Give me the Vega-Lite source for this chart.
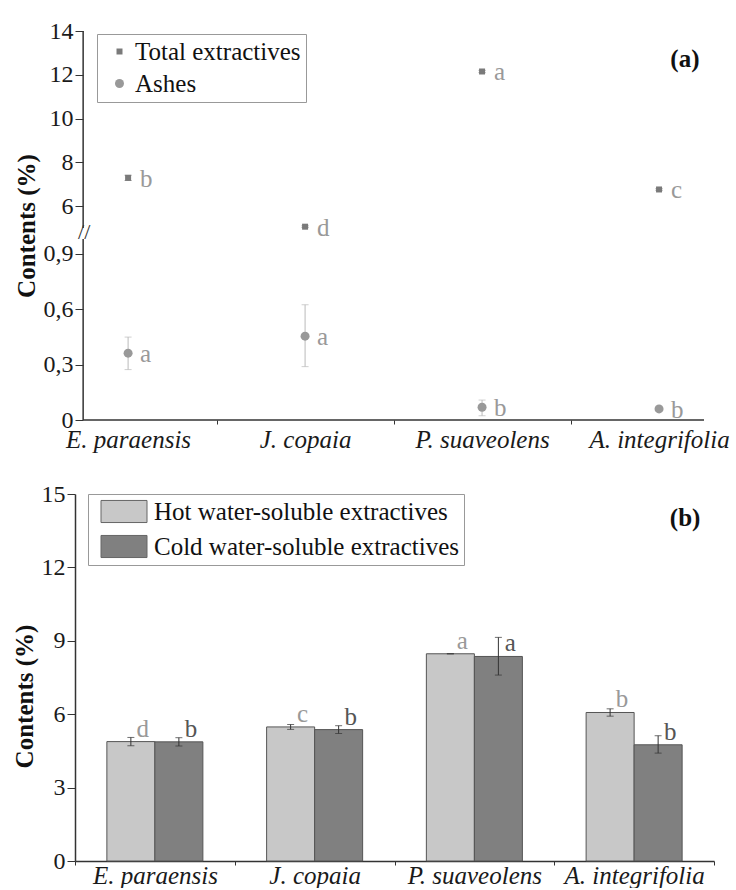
{
  "$schema": "https://vega.github.io/schema/vega-lite/v6.json",
  "background": "white",
  "padding": {"left": 12, "top": 19, "right": 0, "bottom": 0},
  "spacing": 30,
  "config": {
    "view": {"stroke": null},
    "font": "Liberation Serif",
    "axis": {
      "labelFont": "Liberation Serif",
      "titleFont": "Liberation Serif",
      "labelColor": "#1a1a1a",
      "titleColor": "#111111",
      "domainColor": "#333333",
      "tickColor": "#333333",
      "grid": false,
      "labelFontSize": 24,
      "titleFontSize": 25,
      "titleFontWeight": "bold"
    },
    "legend": {"labelFont": "Liberation Serif", "labelFontSize": 25, "labelColor": "#111111", "labelLimit": 0},
    "text": {"font": "Liberation Serif"}
  },
  "datasets": {
    "a": [
      {"species": "E. paraensis", "pos": 1, "series": "Total extractives", "value": 7.29, "lo": 7.17, "hi": 7.41, "letter": "b"},
      {"species": "J. copaia", "pos": 2, "series": "Total extractives", "value": 5.06, "lo": 5.02, "hi": 5.1, "letter": "d"},
      {"species": "P. suaveolens", "pos": 3, "series": "Total extractives", "value": 12.15, "lo": 12.1, "hi": 12.2, "letter": "a"},
      {"species": "A. integrifolia", "pos": 4, "series": "Total extractives", "value": 6.76, "lo": 6.72, "hi": 6.8, "letter": "c"},
      {"species": "E. paraensis", "pos": 1, "series": "Ashes", "value": 0.362, "lo": 0.273, "hi": 0.449, "letter": "a"},
      {"species": "J. copaia", "pos": 2, "series": "Ashes", "value": 0.454, "lo": 0.289, "hi": 0.624, "letter": "a"},
      {"species": "P. suaveolens", "pos": 3, "series": "Ashes", "value": 0.069, "lo": 0.023, "hi": 0.108, "letter": "b"},
      {"species": "A. integrifolia", "pos": 4, "series": "Ashes", "value": 0.06, "lo": 0.05, "hi": 0.07, "letter": "b"}
    ],
    "b": [
      {"species": "E. paraensis", "series": "Hot water-soluble extractives", "value": 4.88, "lo": 4.71, "hi": 5.05, "letter": "d"},
      {"species": "E. paraensis", "series": "Cold water-soluble extractives", "value": 4.87, "lo": 4.7, "hi": 5.04, "letter": "b"},
      {"species": "J. copaia", "series": "Hot water-soluble extractives", "value": 5.48, "lo": 5.38, "hi": 5.58, "letter": "c"},
      {"species": "J. copaia", "series": "Cold water-soluble extractives", "value": 5.37, "lo": 5.21, "hi": 5.53, "letter": "b"},
      {"species": "P. suaveolens", "series": "Hot water-soluble extractives", "value": 8.47, "lo": 8.47, "hi": 8.47, "letter": "a"},
      {"species": "P. suaveolens", "series": "Cold water-soluble extractives", "value": 8.36, "lo": 7.6, "hi": 9.14, "letter": "a"},
      {"species": "A. integrifolia", "series": "Hot water-soluble extractives", "value": 6.07, "lo": 5.92, "hi": 6.22, "letter": "b"},
      {"species": "A. integrifolia", "series": "Cold water-soluble extractives", "value": 4.75, "lo": 4.41, "hi": 5.12, "letter": "b"}
    ]
  },
  "vconcat": [
    {
      "width": 629,
      "height": 389,
      "data": {"name": "a"},
      "layer": [
        {
          "data": {"values": [{}]},
          "mark": {"type": "rule", "color": "#333333", "strokeWidth": 1.5},
          "encoding": {
            "x": {"datum": 0.746, "type": "quantitative"},
            "y": {"datum": 0, "type": "quantitative"},
            "y2": {"datum": 0.98}
          }
        },
        {
          "data": {"values": [{}]},
          "mark": {"type": "rule", "color": "#333333", "strokeWidth": 1.5},
          "encoding": {
            "x": {"datum": 0.746, "type": "quantitative"},
            "y": {"datum": 5.0, "type": "quantitative"},
            "y2": {"datum": 14}
          }
        },
        {
          "data": {"values": [{}]},
          "mark": {"type": "rule", "color": "#333333", "strokeWidth": 1.5},
          "encoding": {
            "x": {"datum": 0.746, "type": "quantitative"},
            "x2": {"datum": 4.254},
            "y": {"datum": 0, "type": "quantitative"}
          }
        },
        {
          "data": {"values": [{}]},
          "mark": {"type": "text", "text": "//", "fontSize": 22, "color": "#333333", "align": "center", "baseline": "middle", "dx": 1},
          "encoding": {
            "x": {"datum": 0.746, "type": "quantitative"},
            "y": {"datum": 3.5, "type": "quantitative"}
          }
        },
        {
          "mark": {"type": "rule", "strokeWidth": 1},
          "encoding": {
            "x": {"field": "pos", "type": "quantitative"},
            "y": {"field": "lo", "type": "quantitative"},
            "y2": {"field": "hi"},
            "color": {"condition": {"test": "datum.series == 'Ashes'", "value": "#bbbbbb"}, "value": "#777777"}
          }
        },
        {
          "mark": {"type": "tick", "size": 7, "thickness": 1, "orient": "horizontal"},
          "encoding": {
            "x": {"field": "pos", "type": "quantitative"},
            "y": {"field": "lo", "type": "quantitative"},
            "color": {"condition": {"test": "datum.series == 'Ashes'", "value": "#bbbbbb"}, "value": "#777777"}
          }
        },
        {
          "mark": {"type": "tick", "size": 7, "thickness": 1, "orient": "horizontal"},
          "encoding": {
            "x": {"field": "pos", "type": "quantitative"},
            "y": {"field": "hi", "type": "quantitative"},
            "color": {"condition": {"test": "datum.series == 'Ashes'", "value": "#bbbbbb"}, "value": "#777777"}
          }
        },
        {
          "mark": {"type": "point", "filled": true, "opacity": 1},
          "encoding": {
            "x": {
              "field": "pos",
              "type": "quantitative",
              "scale": {"domain": [0.7, 4.254], "nice": false, "zero": false},
              "axis": {
                "values": [1, 1.5, 2, 2.5, 3, 3.5, 4],
                "labelExpr": "datum.value == 1 ? 'E. paraensis' : datum.value == 2 ? 'J. copaia' : datum.value == 3 ? 'P. suaveolens' : datum.value == 4 ? 'A. integrifolia' : ''",
                "domain": false,
                "tickSize": 4,
                "tickOpacity": {"condition": {"test": "datum.value % 1 == 0", "value": 0}, "value": 1},
                "labelFontStyle": "italic",
                "labelFontSize": 25,
                "labelPadding": 3,
                "labelFlush": false,
                "labelOverlap": false,
                "title": null
              }
            },
            "y": {
              "field": "value",
              "type": "quantitative",
              "scale": {"domain": [0, 0.98, 5.0, 14], "range": [389, 208, 197, 0], "nice": false, "zero": false},
              "axis": {
                "values": [0, 0.3, 0.6, 0.9, 6, 8, 10, 12, 14],
                "labelExpr": "datum.value == 0 ? '0' : datum.value < 1 ? replace(format(datum.value, '.1f'), '.', ',') : format(datum.value, 'd')",
                "domain": false,
                "tickSize": 8,
                "offset": -8,
                "labelPadding": 2,
                "title": "Contents (%)",
                "titlePadding": 4
              }
            },
            "color": {
              "field": "series",
              "type": "nominal",
              "scale": {"domain": ["Total extractives", "Ashes"], "range": ["#7a7a7a", "#999999"]},
              "legend": {
                "title": null,
                "orient": "none",
                "legendX": 22,
                "legendY": 3,
                "strokeColor": "#999999",
                "fillColor": "white",
                "padding": 5,
                "rowPadding": 6,
                "symbolOffset": 5,
                "labelOffset": 3
              }
            },
            "shape": {
              "field": "series",
              "type": "nominal",
              "scale": {"domain": ["Total extractives", "Ashes"], "range": ["square", "circle"]}
            },
            "size": {
              "field": "series",
              "type": "nominal",
              "scale": {"domain": ["Total extractives", "Ashes"], "range": [36, 81]}
            }
          }
        },
        {
          "mark": {"type": "text", "align": "left", "dx": 12, "dy": 1, "baseline": "middle", "fontSize": 25, "color": "#999999"},
          "encoding": {
            "x": {"field": "pos", "type": "quantitative"},
            "y": {"field": "value", "type": "quantitative"},
            "text": {"field": "letter"}
          }
        },
        {
          "data": {"values": [{}]},
          "mark": {"type": "text", "text": "(a)", "fontSize": 25, "fontWeight": "bold", "color": "#111111", "align": "center", "baseline": "middle"},
          "encoding": {
            "x": {"datum": 4.146, "type": "quantitative"},
            "y": {"datum": 12.71, "type": "quantitative"}
          }
        }
      ]
    },
    {
      "width": 639,
      "height": 367,
      "data": {"name": "b"},
      "layer": [
        {
          "mark": {"type": "bar", "stroke": "#555555", "strokeWidth": 1},
          "encoding": {
            "x": {
              "field": "species",
              "type": "nominal",
              "sort": ["E. paraensis", "J. copaia", "P. suaveolens", "A. integrifolia"],
              "scale": {"paddingInner": 0, "paddingOuter": 0},
              "axis": {
                "title": null,
                "labelAngle": 0,
                "labelFontStyle": "italic",
                "labelFontSize": 25,
                "tickBand": "extent",
                "tickSize": 4,
                "labelPadding": -2,
                "domainWidth": 1.5
              }
            },
            "xOffset": {
              "field": "series",
              "scale": {"domain": ["Hot water-soluble extractives", "Cold water-soluble extractives"], "paddingInner": 0, "paddingOuter": 0.664}
            },
            "y": {
              "field": "value",
              "type": "quantitative",
              "scale": {"domain": [0, 15], "nice": false},
              "axis": {
                "values": [0, 3, 6, 9, 12, 15],
                "tickSize": 8,
                "labelPadding": 2,
                "domainWidth": 1.5,
                "title": "Contents (%)",
                "titlePadding": 4,
                "titleY": 202
              }
            },
            "fill": {
              "field": "series",
              "type": "nominal",
              "scale": {"domain": ["Hot water-soluble extractives", "Cold water-soluble extractives"], "range": ["#c8c8c8", "#808080"]},
              "legend": {
                "title": null,
                "orient": "none",
                "legendX": 13,
                "legendY": 463,
                "strokeColor": "#999999",
                "fillColor": "white",
                "padding": 5,
                "rowPadding": 8,
                "symbolType": "M-2,-0.96L2,-0.96L2,0.96L-2,0.96Z",
                "symbolSize": 529,
                "symbolStrokeColor": "#666666",
                "symbolStrokeWidth": 1,
                "symbolOffset": 18.5,
                "labelOffset": 17.5
              }
            }
          }
        },
        {
          "mark": {"type": "rule", "strokeWidth": 1, "color": "#333333"},
          "encoding": {
            "x": {"field": "species", "type": "nominal", "sort": ["E. paraensis", "J. copaia", "P. suaveolens", "A. integrifolia"]},
            "xOffset": {"field": "series"},
            "y": {"field": "lo", "type": "quantitative"},
            "y2": {"field": "hi"}
          }
        },
        {
          "mark": {"type": "tick", "size": 7, "thickness": 1, "color": "#333333", "orient": "horizontal"},
          "encoding": {
            "x": {"field": "species", "type": "nominal", "sort": ["E. paraensis", "J. copaia", "P. suaveolens", "A. integrifolia"]},
            "xOffset": {"field": "series"},
            "y": {"field": "lo", "type": "quantitative"}
          }
        },
        {
          "mark": {"type": "tick", "size": 7, "thickness": 1, "color": "#333333", "orient": "horizontal"},
          "encoding": {
            "x": {"field": "species", "type": "nominal", "sort": ["E. paraensis", "J. copaia", "P. suaveolens", "A. integrifolia"]},
            "xOffset": {"field": "series"},
            "y": {"field": "hi", "type": "quantitative"}
          }
        },
        {
          "mark": {"type": "text", "align": "center", "dx": 12, "dy": -5, "baseline": "alphabetic", "fontSize": 25},
          "encoding": {
            "x": {"field": "species", "type": "nominal", "sort": ["E. paraensis", "J. copaia", "P. suaveolens", "A. integrifolia"]},
            "xOffset": {"field": "series"},
            "y": {"field": "value", "type": "quantitative"},
            "text": {"field": "letter"},
            "color": {"condition": {"test": "datum.series == 'Hot water-soluble extractives'", "value": "#999999"}, "value": "#555555"}
          }
        },
        {
          "data": {"values": [{}]},
          "mark": {"type": "text", "text": "(b)", "fontSize": 25, "fontWeight": "bold", "color": "#111111", "align": "center", "baseline": "middle", "dx": 51},
          "encoding": {
            "x": {"datum": "A. integrifolia", "type": "nominal"},
            "y": {"datum": 14, "type": "quantitative"}
          }
        }
      ]
    }
  ]
}
